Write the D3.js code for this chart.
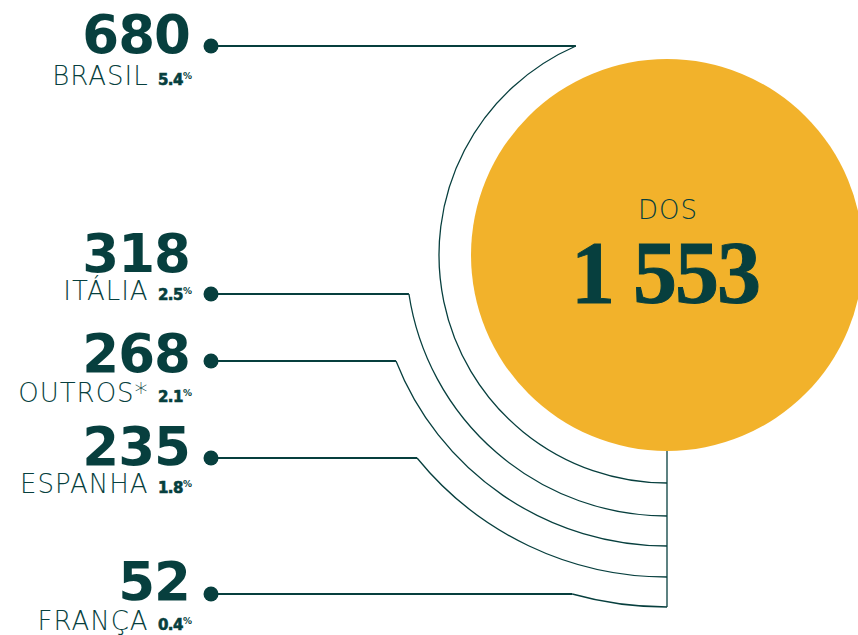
<!DOCTYPE html>
<html>
<head>
<meta charset="utf-8">
<script src="https://cdn.jsdelivr.net/npm/d3@7"></script>
<style>
  html, body { margin: 0; padding: 0; background: #fff; }
  svg { display: block; }
</style>
</head>
<body>
<svg id="chart" width="858" height="635"></svg>
<script>
// data
var countries = ["BRASIL", "ITÁLIA", "OUTROS*", "ESPANHA", "FRANÇA"];
var totals = [680, 318, 268, 235, 52];
var shares = ["5.4", "2.5", "2.1", "1.8", "0.4"];
var grandLabel = "DOS";
var grandTotal = 1553;

// layout
var rowY = [46, 294, 361, 458, 594];
var ringR = [228, 261, 291, 322, 352];

var dark = "#073f3e",
    yellow = "#f2b22b";

var svg = d3.select("#chart"),
    cx = 667, cy = 255, bigR = 196,
    dotX = 211, textX = 190;

var rows = countries.map(function(c, i) {
  return { name: c, value: totals[i], share: shares[i], y: rowY[i], r: ringR[i] };
});

// big circle
svg.append("circle")
    .attr("cx", cx)
    .attr("cy", cy)
    .attr("r", bigR)
    .attr("fill", yellow);

svg.append("text")
    .attr("x", cx + 1)
    .attr("y", 219)
    .attr("text-anchor", "middle")
    .attr("fill", dark)
    .style("font-family", "'DejaVu Sans'")
    .style("font-weight", 200)
    .style("font-size", "26px")
    .style("letter-spacing", "1px")
    .text(grandLabel);

svg.append("text")
    .attr("x", cx - 2)
    .attr("y", 302)
    .attr("text-anchor", "middle")
    .attr("fill", dark)
    .style("font-family", "'Liberation Serif'")
    .style("font-weight", 700)
    .style("font-size", "88px")
    .style("letter-spacing", "-2px")
    .style("stroke", dark)
    .style("stroke-width", "1px")
    .text(d3.format(",")(grandTotal).replace(",", " "));

// connector lines
function meetX(d) {
  return cx - Math.sqrt(d.r * d.r - (d.y - cy) * (d.y - cy));
}

var g = svg.append("g");

g.selectAll("path.arc")
  .data(rows)
  .enter().append("path")
    .attr("class", "arc")
    .attr("fill", "none")
    .attr("stroke", dark)
    .attr("stroke-width", 1.3)
    .attr("d", function(d) {
      return "M" + meetX(d) + "," + d.y +
        "A" + d.r + "," + d.r + " 0 0 0 " + cx + "," + (cy + d.r);
    });

g.selectAll("line.h")
  .data(rows)
  .enter().append("line")
    .attr("class", "h")
    .attr("x1", dotX)
    .attr("x2", function(d) { return meetX(d); })
    .attr("y1", function(d) { return d.y; })
    .attr("y2", function(d) { return d.y; })
    .attr("stroke", dark)
    .attr("stroke-width", 2.2);

g.append("line")
    .attr("x1", cx)
    .attr("x2", cx)
    .attr("y1", cy + bigR)
    .attr("y2", cy + d3.max(ringR))
    .attr("stroke", dark)
    .attr("stroke-width", 1.3);

g.selectAll("circle.dot")
  .data(rows)
  .enter().append("circle")
    .attr("class", "dot")
    .attr("cx", dotX)
    .attr("cy", function(d) { return d.y; })
    .attr("r", 7.5)
    .attr("fill", dark);

// labels
var numBase = [53, 272, 372, 465, 600];
var labBase = [85, 300, 402, 493, 630];

var lab = svg.append("g").selectAll("g.row")
  .data(rows)
  .enter().append("g")
    .attr("class", "row");

lab.append("text")
    .attr("x", textX)
    .attr("y", function(d, i) { return numBase[i]; })
    .attr("text-anchor", "end")
    .attr("fill", dark)
    .style("font-family", "'DejaVu Sans'")
    .style("font-weight", 700)
    .style("font-size", "53px")
    .style("letter-spacing", "-1px")
    .text(function(d) { return d.value; });

var t = lab.append("text")
    .attr("x", textX + 2)
    .attr("y", function(d, i) { return labBase[i]; })
    .attr("text-anchor", "end")
    .attr("fill", dark)
    .style("font-family", "'DejaVu Sans'");

t.append("tspan")
    .style("font-weight", 200)
    .style("font-size", "26px")
    .style("letter-spacing", "1px")
    .text(function(d) { return d.name + " "; });

t.append("tspan")
    .style("font-weight", 700)
    .style("font-size", "15px")
    .style("letter-spacing", "-0.5px")
    .style("stroke", dark)
    .style("stroke-width", "0.6px")
    .text(function(d) { return d.share; });

t.append("tspan")
    .attr("dy", -6)
    .style("font-weight", 700)
    .style("font-size", "9px")
    .text("%");
</script>
</body>
</html>
